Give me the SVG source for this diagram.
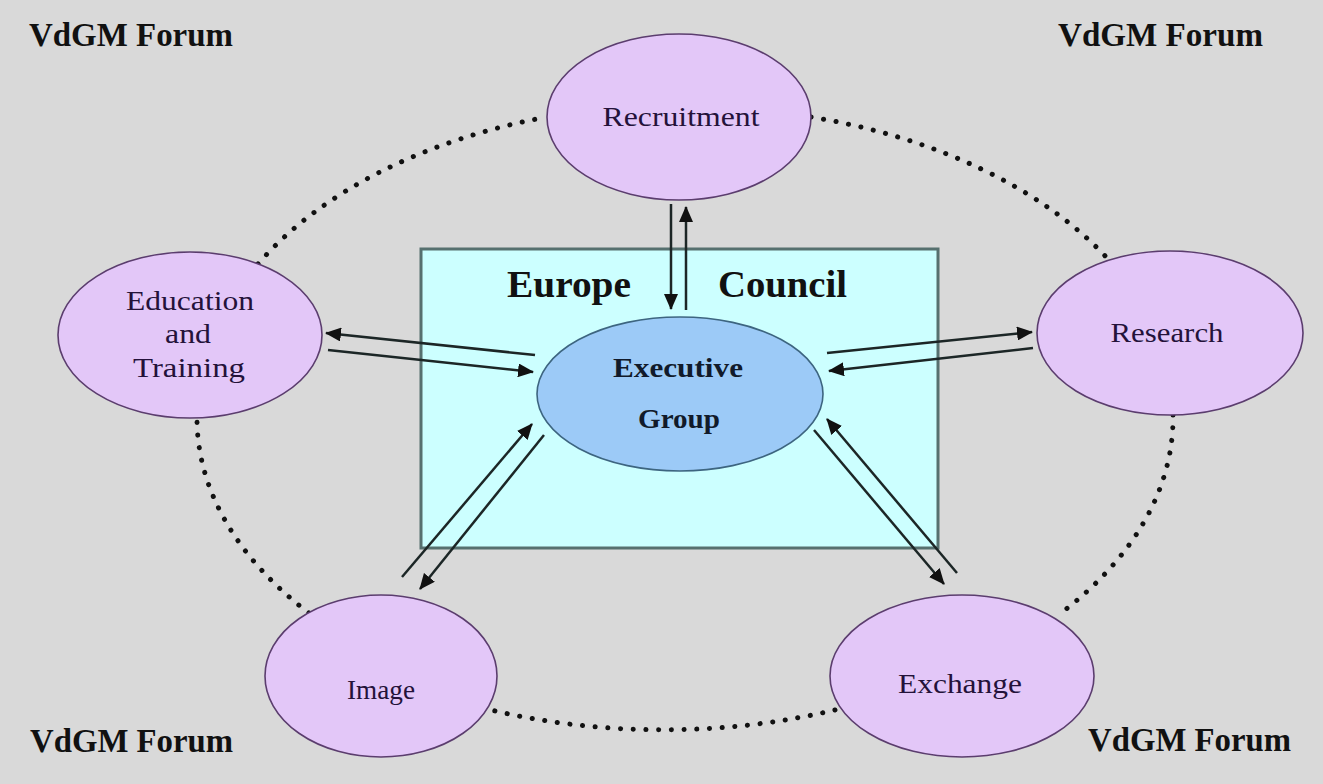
<svg xmlns="http://www.w3.org/2000/svg" width="1323" height="784" viewBox="0 0 1323 784">
<style>
.bg{fill:#d9d9d9}
.node{fill:#e3c7f8;stroke:#5b3d6e;stroke-width:1.6}
.exec{fill:#9ccaf7;stroke:#3d6580;stroke-width:1.6}
.council{fill:#ccffff;stroke:#56706f;stroke-width:3}
.lbl{font-family:"Liberation Serif",serif;font-size:27px;fill:#24123a;text-anchor:middle}
.elbl{font-family:"Liberation Serif",serif;font-size:27px;font-weight:bold;fill:#111a2a;text-anchor:middle}
.big{font-family:"Liberation Serif",serif;font-size:37px;font-weight:bold;fill:#111}
.forum{font-family:"Liberation Serif",serif;font-size:33px;font-weight:bold;fill:#111}
.dots{fill:none;stroke:#111;stroke-width:5;stroke-linecap:round;stroke-dasharray:0.1 12.6}
.arr{fill:none;stroke:#1c2626;stroke-width:2.5;marker-end:url(#ah)}
</style>
<defs>
<marker id="ah" markerUnits="userSpaceOnUse" markerWidth="16" markerHeight="14" refX="15" refY="7" orient="auto">
<path d="M0,0 L16,7 L0,14 z" fill="#111"/>
</marker>
</defs>
<rect class="bg" x="0" y="0" width="1323" height="784"/>
<g id="forum-labels">
<text class="forum" x="29" y="46" textLength="204" lengthAdjust="spacingAndGlyphs">VdGM Forum</text>
<text class="forum" x="1058" y="46" textLength="205" lengthAdjust="spacingAndGlyphs">VdGM Forum</text>
<text class="forum" x="30" y="752" textLength="203" lengthAdjust="spacingAndGlyphs">VdGM Forum</text>
<text class="forum" x="1088" y="751" textLength="203" lengthAdjust="spacingAndGlyphs">VdGM Forum</text>
</g>
<g id="forum-ring">
<path class="dots" d="M258,264 A485,305 0 0 1 547,117"/>
<path class="dots" d="M811,117 A485,305 0 0 1 1108,259"/>
<path class="dots" d="M1173,415 A485,305 0 0 1 1061,613"/>
<path class="dots" d="M835,710 A485,305 0 0 1 487,709"/>
<path class="dots" d="M309,613 A485,305 0 0 1 197,415"/>
</g>
<g id="council">
<rect class="council" x="421" y="249" width="517" height="299"/>
<text class="big" x="507" y="297" textLength="124" lengthAdjust="spacingAndGlyphs">Europe</text>
<text class="big" x="718" y="297" textLength="129" lengthAdjust="spacingAndGlyphs">Council</text>
</g>
<g id="connectors">
<line class="arr" x1="671" y1="204" x2="671" y2="309"/>
<line class="arr" x1="686" y1="310" x2="686" y2="207"/>
<line class="arr" x1="535" y1="355" x2="326" y2="333"/>
<line class="arr" x1="328" y1="350" x2="533" y2="372"/>
<line class="arr" x1="827" y1="353" x2="1032" y2="332"/>
<line class="arr" x1="1033" y1="348" x2="829" y2="371"/>
<line class="arr" x1="402" y1="577" x2="532" y2="424"/>
<line class="arr" x1="544" y1="435" x2="420" y2="589"/>
<line class="arr" x1="957" y1="573" x2="827" y2="419"/>
<line class="arr" x1="814" y1="430" x2="944" y2="584"/>
</g>
<g id="executive">
<ellipse class="exec" cx="680" cy="394" rx="143" ry="77"/>
<text class="elbl" x="678" y="377" textLength="130" lengthAdjust="spacingAndGlyphs">Executive</text>
<text class="elbl" x="679" y="428" textLength="82" lengthAdjust="spacingAndGlyphs">Group</text>
</g>
<g id="recruitment">
<ellipse class="node" cx="679" cy="117" rx="132" ry="83"/>
<text class="lbl" x="681" y="126" textLength="157" lengthAdjust="spacingAndGlyphs">Recruitment</text>
</g>
<g id="education">
<ellipse class="node" cx="190" cy="335" rx="132" ry="83"/>
<text class="lbl" x="190" y="310" textLength="128" lengthAdjust="spacingAndGlyphs">Education</text>
<text class="lbl" x="188" y="343" textLength="46" lengthAdjust="spacingAndGlyphs">and</text>
<text class="lbl" x="189" y="377" textLength="112" lengthAdjust="spacingAndGlyphs">Training</text>
</g>
<g id="research">
<ellipse class="node" cx="1170" cy="333" rx="133" ry="82"/>
<text class="lbl" x="1167" y="342" textLength="113" lengthAdjust="spacingAndGlyphs">Research</text>
</g>
<g id="image">
<ellipse class="node" cx="381" cy="676" rx="116" ry="81"/>
<text class="lbl" x="381" y="699" textLength="68" lengthAdjust="spacingAndGlyphs">Image</text>
</g>
<g id="exchange">
<ellipse class="node" cx="962" cy="676" rx="132" ry="81"/>
<text class="lbl" x="960" y="693" textLength="124" lengthAdjust="spacingAndGlyphs">Exchange</text>
</g>
</svg>
